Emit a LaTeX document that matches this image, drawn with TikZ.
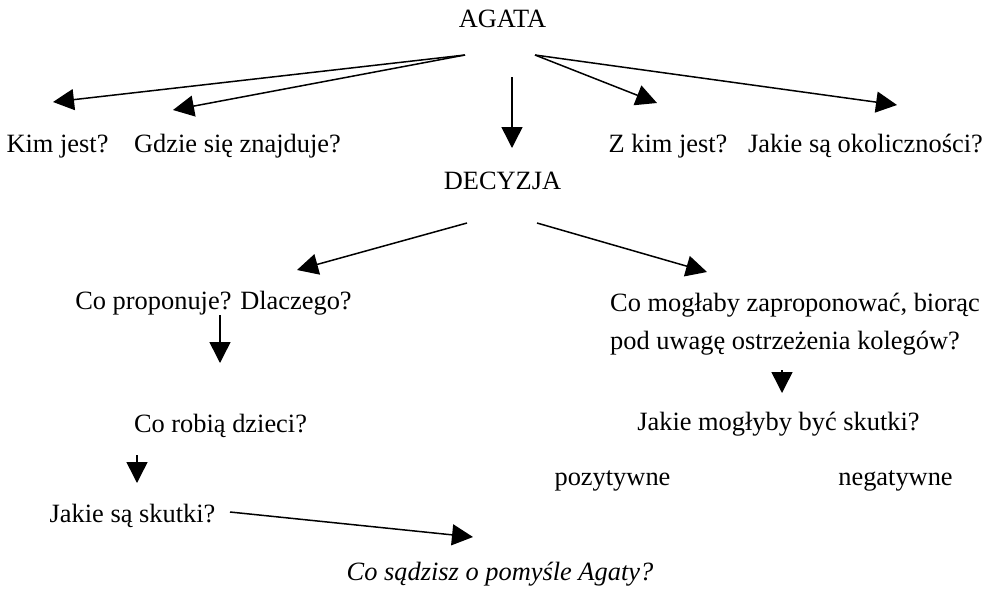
\documentclass[tikz,border=0pt]{standalone}
\usepackage{fontspec}
\setmainfont{Liberation Serif}
\usetikzlibrary{arrows.meta}
\tikzset{
  lbl/.style={inner sep=0pt, anchor=base, font=\fontsize{26.4}{32}\selectfont},
  lblw/.style={inner sep=0pt, anchor=base west, font=\fontsize{26.4}{32}\selectfont},
  arr/.style={line width=1.5pt, -{Triangle[length=21pt,width=21pt]}}
}
\begin{document}
\begin{tikzpicture}[x=1pt,y=-1pt]
\useasboundingbox (0,0) rectangle (989,590);
% texts
\node[lbl] (agata) at (502.5,27) {AGATA};
\node[lbl] (kim) at (57.5,152) {Kim jest?};
\node[lbl] (gdzie) at (237.5,152) {Gdzie się znajduje?};
\node[lbl] (zkim) at (668,152) {Z kim jest?};
\node[lbl] (okol) at (865.5,152) {Jakie są okoliczności?};
\node[lbl] (decyzja) at (502.5,189) {DECYZJA};
\node[lbl] (coprop) at (213.5,309) {Co proponuje? Dlaczego?};
\node[lblw] (comog) at (610,311) {Co mogłaby zaproponować, biorąc};
\node[lblw] (comogb) at (610,349) {pod uwagę ostrzeżenia kolegów?};
\node[lbl] (dzieci) at (220.5,432) {Co robią dzieci?};
\node[lbl] (skutki) at (132.5,522) {Jakie są skutki?};
\node[lbl] (mogskutki) at (778.5,430) {Jakie mogłyby być skutki?};
\node[lbl] (poz) at (612.5,485) {pozytywne};
\node[lbl] (neg) at (895.5,485) {negatywne};
\node[lbl, font=\fontsize{26.4}{32}\selectfont\itshape] (sadzisz) at (500,580) {Co sądzisz o pomyśle Agaty?};
% arrow end points
\coordinate (aL) at (465,55);
\coordinate (aR) at (535,55);
\coordinate (tKim) at (53,102);
\coordinate (tGdzie) at (173,110);
\coordinate (tZkim) at (657,103);
\coordinate (tOkol) at (897,105);
\coordinate (aD1) at (512,77);
\coordinate (aD2) at (512,148);
\coordinate (dL) at (467,223);
\coordinate (dR) at (537,223);
\coordinate (tProp) at (297,270);
\coordinate (tMog) at (707,272);
\coordinate (p1) at (220,315);
\coordinate (p2) at (220,363);
\coordinate (r1) at (137,455);
\coordinate (r2) at (137,483);
\coordinate (m1) at (782,370);
\coordinate (m2) at (782,393);
\coordinate (s1) at (230,512);
\coordinate (s2) at (473,537);
% arrows
\draw[arr] (aL) -- (tKim);
\draw[arr] (aL) -- (tGdzie);
\draw[arr] (aR) -- (tZkim);
\draw[arr] (aR) -- (tOkol);
\draw[arr] (aD1) -- (aD2);
\draw[arr] (dL) -- (tProp);
\draw[arr] (dR) -- (tMog);
\draw[arr] (p1) -- (p2);
\draw[arr] (r1) -- (r2);
\draw[arr] (m1) -- (m2);
\draw[arr] (s1) -- (s2);
\end{tikzpicture}
\end{document}
